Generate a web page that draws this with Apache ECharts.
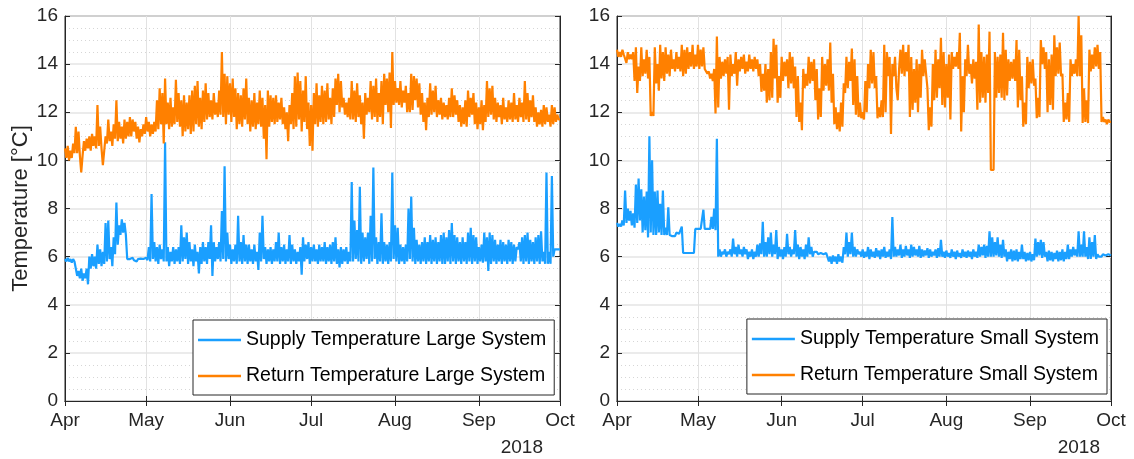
<!DOCTYPE html>
<html>
<head>
<meta charset="utf-8">
<script src="https://cdn.jsdelivr.net/npm/echarts@6/dist/echarts.min.js"></script>
<style>html,body{margin:0;padding:0;background:#fff}#c{width:1134px;height:459px}</style>
</head>
<body>
<div id="c"></div>
<script>
// Half-day samples starting 2018-04-01 00:00
const monthLabels = ['Jan','Feb','Mar','Apr','May','Jun','Jul','Aug','Sep','Oct','Nov','Dec'];
const yTicks = [0, 2, 4, 6, 8, 10, 12, 14, 16];
const yearLabel = '2018';
const seriesNames = ['Supply Temperature Large System','Return Temperature Large System','Supply Temperature Small System','Return Temperature Small System'];

const returnLarge = [
10.5,10.1, 10.6,10.0, 10.4,10.1, 10.7,10.3, 11.4,10.3, 11.2,10.2, 9.5,10.2, 10.8,10.4, 10.9,10.5, 11.0,10.4,
11.1,10.6, 11.0,10.5, 12.3,10.6, 11.4,10.5, 9.8,10.4, 11.0,10.7, 11.7,10.8, 11.2,10.6, 11.5,10.9, 12.5,10.8,
11.6,10.9, 11.4,10.7, 11.7,10.9, 11.6,11.0, 11.8,11.0, 11.7,11.2, 11.6,10.9, 11.4,10.75, 11.3,11.0, 11.5,11.1,
11.8,11.2, 11.6,11.0, 11.5,11.1, 11.6,11.2, 12.5,11.3, 13.0,11.5, 12.8,10.7, 13.4,11.5, 12.4,11.3, 12.6,11.4,
12.2,11.5, 13.35,11.6, 12.8,11.4, 12.5,11.0, 12.7,11.2, 12.4,11.3, 12.7,11.1, 12.9,11.2, 13.1,11.5, 13.3,11.4,
12.6,11.3, 12.9,11.6, 13.2,11.7, 12.8,11.8, 12.5,11.7, 12.8,11.9, 12.4,11.8, 12.9,11.9, 14.5,11.8, 13.6,11.5,
13.5,11.9, 13.2,11.6, 13.4,11.8, 13.0,11.3, 12.8,11.5, 12.7,11.4, 13.0,11.7, 13.4,11.5, 12.6,11.2, 12.5,11.4,
12.8,11.3, 12.4,11.5, 12.9,11.4, 12.6,10.9, 12.3,10.05, 12.9,11.4, 12.7,11.6, 12.6,11.5, 12.7,11.6, 12.4,11.7,
12.6,11.5, 12.2,11.3, 12.0,10.8, 12.3,11.5, 12.8,11.3, 13.5,11.4, 13.65,11.7, 13.3,11.2, 12.9,11.6, 13.5,11.3,
12.4,10.6, 12.3,10.4, 12.8,11.5, 13.2,11.4, 12.7,11.6, 13.1,11.5, 12.9,11.6, 13.2,11.7, 12.6,11.5, 13.0,11.8,
13.4,12.3, 13.6,12.0, 13.3,12.2, 12.6,11.9, 12.4,11.8, 12.6,11.7, 13.3,11.7, 12.9,11.6, 13.2,11.8, 12.7,11.5,
12.4,10.9, 12.8,11.9, 12.6,12.0, 13.3,11.7, 13.1,11.8, 13.4,11.6, 12.8,11.8, 13.3,11.5, 13.6,12.3, 13.4,12.0,
13.65,11.35, 14.5,12.3, 13.3,12.4, 13.0,12.3, 13.3,12.2, 12.9,12.4, 13.1,12.0, 12.8,12.0, 13.6,12.1, 13.5,12.5,
13.4,12.2, 13.2,11.9, 12.8,11.6, 12.4,11.25, 12.6,11.8, 13.2,11.9, 12.9,12.0, 13.1,11.8, 12.5,11.9, 12.6,11.7,
12.4,11.8, 12.3,11.7, 12.6,11.8, 13.0,11.8, 12.7,11.9, 12.5,11.6, 12.3,11.4, 12.2,11.5, 12.5,11.4, 12.9,11.8,
12.6,11.9, 12.8,11.5, 12.4,11.3, 12.2,11.5, 12.5,11.25, 12.3,11.6, 13.3,11.8, 13.0,11.9, 13.1,11.7, 12.6,11.6,
12.4,11.8, 12.3,11.5, 12.6,11.7, 12.2,11.6, 12.5,11.7, 12.4,11.6, 12.8,11.7, 12.3,11.6, 12.6,11.8, 12.4,11.6,
13.3,11.7, 12.8,11.6, 12.5,11.8, 12.7,11.6, 12.2,11.4, 12.0,11.5, 12.1,11.4, 12.3,11.5, 12.2,11.6, 11.9,11.4,
12.3,11.5, 12.2,11.6, 11.9,11.7, 11.7
];

const supplyLarge = [
5.9,5.8, 5.95,5.8, 5.9,5.75, 5.9,5.8, 5.5,5.2, 5.4,5.1, 5.5,5.0, 5.3,5.1, 5.5,4.85, 6.0,5.5,
6.1,5.6, 6.0,5.5, 6.5,5.7, 6.3,5.6, 6.2,5.7, 7.4,5.8, 7.5,5.9, 6.4,5.6, 6.8,6.1, 8.25,6.5,
7.3,6.9, 7.55,7.0, 7.4,6.9, 5.9,5.9, 5.9,5.85, 5.95,5.85, 5.9,5.8, 5.9,5.85, 5.92,5.86, 5.9,5.85,
5.95,5.85, 6.4,5.8, 8.6,5.9, 6.6,5.8, 6.4,5.7, 6.5,5.9, 6.3,5.8, 10.75,5.8, 6.4,5.6, 6.2,5.8,
6.4,5.7, 6.3,5.8, 6.4,5.7, 7.3,5.8, 6.8,5.9, 7.0,5.7, 6.6,5.8, 6.3,5.6, 6.5,5.8, 6.2,5.3,
6.4,5.7, 6.6,5.8, 6.4,5.7, 6.6,5.9, 7.3,5.2, 6.6,5.8, 6.4,5.9, 6.6,5.8, 7.9,5.9, 9.75,5.8,
7.0,5.9, 6.5,5.7, 6.3,5.8, 6.5,5.7, 7.7,5.8, 6.6,5.7, 6.9,5.8, 6.5,5.7, 6.5,5.8, 6.3,5.7,
6.5,5.8, 6.2,5.45, 7.0,5.8, 7.7,5.9, 6.4,5.7, 6.3,5.8, 6.4,5.7, 6.3,5.8, 6.6,5.8, 7.0,5.7,
6.4,5.8, 6.5,5.7, 6.3,5.8, 6.9,5.7, 6.5,5.8, 6.3,5.7, 6.2,5.8, 6.4,5.25, 6.8,5.8, 6.5,5.9,
6.6,5.7, 6.4,5.8, 6.5,5.8, 6.3,5.7, 6.5,5.8, 6.4,5.8, 6.6,5.7, 6.4,5.8, 6.5,5.7, 6.6,5.8,
6.8,5.7, 6.3,5.55, 6.4,5.7, 6.3,5.8, 6.4,5.7, 6.2,5.8, 9.1,5.8, 7.5,5.9, 7.1,5.8, 8.9,5.7,
7.0,5.8, 6.8,5.9, 7.0,5.7, 7.7,5.8, 9.7,5.9, 6.8,5.7, 6.6,5.8, 7.8,5.7, 6.6,5.8, 6.5,5.7,
6.6,5.8, 9.5,5.9, 7.3,5.8, 7.2,5.7, 6.5,5.8, 6.4,5.7, 6.5,5.8, 8.0,5.9, 8.5,5.8, 7.2,5.7,
6.7,5.8, 6.5,5.7, 6.6,5.8, 6.8,5.7, 6.6,5.8, 6.9,5.7, 6.7,5.8, 6.8,5.7, 6.6,5.8, 6.9,5.7,
7.0,5.7, 6.8,5.8, 7.1,5.7, 7.4,5.8, 6.9,5.7, 6.8,5.8, 6.6,5.7, 6.8,5.8, 6.6,5.7, 7.0,5.8,
7.2,5.7, 6.9,5.8, 6.8,5.7, 6.4,5.8, 6.5,5.75, 7.0,5.8, 6.8,5.4, 7.0,5.7, 6.9,5.8, 6.7,5.7,
6.5,5.8, 6.7,5.7, 6.6,5.8, 6.5,5.7, 6.7,5.8, 6.6,5.7, 6.5,5.8, 6.4,6.3, 6.6,5.8, 6.8,5.7,
6.9,5.8, 7.0,5.7, 6.7,5.8, 6.6,5.7, 6.8,5.8, 6.9,5.7, 7.05,5.8, 6.2,5.7, 9.5,5.7, 6.2,5.7,
9.35,6.0, 6.3,6.3, 6.3,6.3, 6.3
];

const returnSmall = [
14.6,14.3, 14.5,14.3, 14.6,14.4, 14.4,14.05, 14.5,14.2, 14.4,14.2, 14.5,13.3, 14.7,12.8, 13.9,13.3, 14.7,13.5,
14.2,13.6, 14.6,13.4, 14.3,11.85, 12.0,11.85, 14.7,13.2, 14.0,12.9, 14.8,13.4, 14.5,13.3, 14.7,13.6, 14.4,13.5,
14.6,13.8, 14.2,13.7, 14.5,13.8, 14.3,13.7, 14.8,13.5, 14.6,13.6, 14.7,13.8, 14.5,13.9, 14.8,13.8, 14.4,13.9,
14.8,13.8, 14.6,13.9, 14.7,13.8, 13.8,13.6, 13.7,13.4, 13.6,13.3, 13.8,11.95, 15.15,12.2, 14.3,13.4, 14.1,13.5,
14.2,13.6, 14.3,12.1, 14.4,13.5, 14.0,13.6, 14.5,13.1, 14.2,13.7, 14.3,13.8, 14.4,13.6, 14.1,13.7, 14.4,13.8,
14.2,13.7, 14.3,13.8, 14.2,13.5, 14.0,12.85, 13.6,12.9, 14.0,12.4, 13.8,12.5, 14.5,12.6, 15.05,13.4, 14.8,12.4,
13.5,12.6, 14.3,13.3, 14.1,13.5, 14.2,13.0, 14.5,13.2, 14.3,13.0, 13.9,11.8, 13.5,11.6, 12.4,11.25, 13.8,13.0,
13.6,13.1, 14.3,13.2, 14.1,13.3, 14.2,12.5, 13.8,11.7, 13.0,11.8, 14.3,12.9, 14.0,13.1, 14.2,12.9, 14.9,12.4,
13.6,11.5, 12.2,11.3, 12.0,11.2, 12.4,11.4, 13.2,12.8, 14.3,13.0, 14.1,13.3, 14.65,12.3, 14.2,11.9, 13.5,11.8,
12.4,11.75, 12.0,11.7, 13.3,12.0, 14.0,13.0, 14.6,13.2, 14.5,13.0, 13.5,11.75, 12.2,11.8, 12.5,11.8, 14.8,12.0,
14.5,13.5, 14.3,11.1, 14.0,13.5, 14.3,13.0, 12.5,13.8, 14.6,13.6, 14.8,13.5, 14.5,13.7, 14.8,11.8, 14.3,12.1,
13.8,12.4, 14.2,12.0, 14.0,12.6, 14.6,13.5, 14.2,13.6, 13.0,11.25, 12.2,11.4, 14.0,12.5, 14.6,12.6, 14.2,13.0,
15.1,12.3, 14.5,12.2, 14.0,12.6, 14.4,11.7, 14.5,13.8, 14.3,13.9, 14.5,13.8, 15.3,11.2, 13.5,12.0, 14.2,13.5,
14.8,13.6, 14.0,13.2, 14.2,13.4, 14.1,12.1, 15.65,12.4, 14.5,12.6, 14.3,12.4, 14.4,12.8, 15.35,9.6, 9.55,9.6,
14.5,12.6, 14.3,12.8, 14.4,12.6, 15.3,12.5, 14.6,12.7, 14.2,13.3, 14.1,13.4, 14.2,13.3, 15.0,12.2, 14.6,12.5,
13.5,11.4, 12.4,11.5, 14.3,13.0, 14.1,13.2, 14.2,13.1, 13.4,11.75, 12.6,11.8, 15.0,14.0, 14.7,13.8, 14.5,12.0,
14.2,12.3, 14.4,12.1, 15.2,13.5, 14.7,13.6, 14.9,13.5, 13.6,11.6, 12.4,11.7, 12.8,11.6, 14.2,13.5, 14.0,13.6,
14.2,13.5, 16.0,13.5, 15.2,11.55, 13.0,11.6, 12.5,11.55, 14.6,13.7, 14.4,13.8, 14.7,13.9, 14.8,13.8, 14.5,11.6,
11.8,11.6, 11.7,11.5, 11.7,11.6, 11.6
];

const supplySmall = [
7.4,7.25, 7.35,7.25, 7.5,7.3, 8.75,7.4, 8.0,7.5, 7.9,7.3, 7.8,7.2, 9.0,7.4, 9.25,7.5, 8.8,7.0,
8.5,7.1, 8.7,6.8, 11.0,7.0, 10.0,6.9, 8.7,6.9, 8.75,7.0, 8.2,6.9, 8.75,6.9, 7.2,6.9, 8.05,6.9,
6.9,6.85, 6.9,6.85, 7.0,7.0, 6.95,6.95, 7.25,6.15, 6.15,6.15, 6.15,6.15, 6.15,6.15, 6.15,6.15, 7.15,7.15,
7.15,7.15, 7.15,7.15, 7.95,7.15, 7.15,7.15, 7.2,7.15, 7.65,7.15, 8.0,7.1, 10.9,6.0, 6.3,6.0, 6.2,6.1,
6.3,6.0, 6.2,6.1, 6.3,6.0, 6.75,6.1, 6.4,6.0, 6.5,6.1, 6.3,6.0, 6.4,6.1, 6.3,5.9, 6.2,6.0,
6.3,5.9, 6.2,6.0, 6.5,6.0, 6.55,6.1, 7.45,6.0, 6.6,6.0, 6.8,6.1, 7.0,6.0, 6.5,6.1, 7.1,5.9,
6.4,6.0, 6.3,5.9, 6.4,6.0, 6.95,6.1, 6.4,6.0, 6.3,6.1, 7.1,6.0, 6.5,5.9, 6.4,6.0, 6.3,5.9,
6.5,6.0, 6.8,6.1, 6.4,6.0, 6.2,6.15, 6.2,6.1, 6.15,6.15, 6.2,6.1, 6.15,6.15, 6.1,5.8, 6.0,5.7,
6.05,5.8, 6.0,5.7, 6.1,5.8, 6.0,5.75, 6.4,6.1, 7.0,6.0, 6.6,6.1, 7.0,6.0, 6.4,6.0, 6.3,6.1,
6.2,6.0, 6.3,5.95, 6.2,6.0, 6.4,5.9, 6.3,6.0, 6.2,5.95, 6.35,6.0, 6.25,5.9, 6.3,6.0, 6.4,5.95,
6.2,6.0, 6.3,5.9, 7.65,6.0, 6.4,6.0, 6.3,6.05, 6.5,5.95, 6.3,6.0, 6.45,6.05, 6.3,5.95, 6.5,6.0,
6.4,6.05, 6.3,6.0, 6.45,5.95, 6.3,6.0, 6.25,6.05, 6.35,5.95, 6.3,6.0, 6.2,6.05, 6.3,5.95, 6.35,6.0,
6.7,6.0, 6.2,5.95, 6.25,6.0, 6.15,5.95, 6.3,6.0, 6.2,5.9, 6.25,6.0, 6.15,5.95, 6.3,6.0, 6.2,5.95,
6.25,6.0, 6.2,5.9, 6.3,6.0, 6.2,5.95, 6.5,6.0, 6.4,6.05, 6.5,5.95, 6.45,6.0, 7.05,6.0, 6.8,6.0,
6.6,6.05, 6.8,6.0, 6.5,5.95, 6.7,6.0, 6.3,5.8, 6.2,5.9, 6.3,5.8, 6.25,5.85, 6.3,5.8, 6.2,5.9,
6.5,5.9, 6.2,5.8, 6.15,5.85, 6.2,5.8, 6.1,5.85, 6.75,6.0, 6.6,6.05, 6.7,5.95, 6.6,6.0, 6.2,5.8,
6.25,5.85, 6.2,5.8, 6.15,5.9, 6.25,5.8, 6.2,5.85, 6.3,5.8, 6.2,5.9, 6.5,5.9, 6.3,6.0, 6.4,6.05,
6.3,6.0, 7.05,6.0, 6.5,6.0, 7.05,6.0, 6.4,5.9, 6.8,5.9, 6.6,6.0, 6.9,5.9, 6.1,6.0, 6.05,6.0,
6.1,6.05, 6.05,6.0, 6.1,6.05, 6.05
];

const START = new Date(2018, 3, 1).getTime();
const END = new Date(2018, 9, 1).getTime();
const HALF_DAY = 12 * 3600 * 1000;
function toSeries(vals) { return vals.map((v, i) => [START + i * HALF_DAY, v]); }

const FONT = 'Liberation Sans, Arial, sans-serif';
const AX = '#262626';
const BLUE = '#1a9fff';
const ORANGE = '#ff8000';

function xAxisCfg(gridIndex, position, showLabel) {
  return {
    type: 'time', gridIndex, position, min: START, max: END,
    splitNumber: 6, minInterval: 28 * 86400000, maxInterval: 31 * 86400000,
    axisLine: { show: true, lineStyle: { color: AX, width: 1 } },
    axisTick: { show: true, inside: true, length: 5, lineStyle: { color: AX } },
    axisLabel: {
      show: showLabel, color: AX, fontSize: 19, fontFamily: FONT, margin: 10,
      showMinLabel: true, showMaxLabel: true,
      formatter: (v) => monthLabels[new Date(v).getMonth()]
    },
    splitLine: { show: showLabel, lineStyle: { color: '#e2e2e2', width: 1 } }
  };
}
function yAxisCfg(gridIndex, position, showLabel, withName) {
  return {
    type: 'value', gridIndex, position, min: yTicks[0], max: yTicks[yTicks.length - 1], interval: 2,
    name: withName ? 'Temperature [°C]' : '',
    nameLocation: 'middle', nameGap: 33,
    nameTextStyle: { color: AX, fontSize: 22, fontFamily: FONT },
    axisLine: { show: true, lineStyle: { color: AX, width: 1 } },
    axisTick: { show: true, inside: true, length: 5, lineStyle: { color: AX } },
    axisLabel: { show: showLabel, color: AX, fontSize: 19, fontFamily: FONT, margin: 7 },
    splitLine: { show: showLabel, lineStyle: { color: '#e4e4e4', width: 1.5 } },
    minorTick: { show: showLabel, splitNumber: 4, length: 0, lineStyle: { color: 'rgba(0,0,0,0)' } },
    minorSplitLine: { show: showLabel, lineStyle: { color: '#d6d6d6', width: 1, type: [1, 3] } }
  };
}
function lineSeries(name, vals, xi, yi, color) {
  return {
    name, type: 'line', xAxisIndex: xi, yAxisIndex: yi, data: toSeries(vals),
    showSymbol: false, symbol: 'none', sampling: null, color,
    lineStyle: { color, width: 2.2 }, emphasis: { disabled: true }
  };
}
function legendCfg(names, pos) {
  return Object.assign({
    data: names, orient: 'vertical', icon: 'rect', itemWidth: 43, itemHeight: 2.5, itemGap: 16,
    padding: [10, 8, 9, 5], backgroundColor: '#fff', borderColor: AX, borderWidth: 1, borderRadius: 0,
    textStyle: { color: '#000', fontSize: 19.5, fontFamily: FONT }, selectedMode: false
  }, pos);
}

const chart = echarts.init(document.getElementById('c'), null, { renderer: 'canvas' });
chart.setOption({
  animation: false,
  backgroundColor: '#fff',
  grid: [
    { left: 65, right: 574, top: 16, bottom: 58, show: true, borderColor: AX, borderWidth: 1, backgroundColor: '#fff', containLabel: false },
    { left: 617, right: 23, top: 16, bottom: 58, show: true, borderColor: AX, borderWidth: 1, backgroundColor: '#fff', containLabel: false }
  ],
  xAxis: [ xAxisCfg(0, 'bottom', true), xAxisCfg(0, 'top', false), xAxisCfg(1, 'bottom', true), xAxisCfg(1, 'top', false) ],
  yAxis: [ yAxisCfg(0, 'left', true, true), yAxisCfg(0, 'right', false, false), yAxisCfg(1, 'left', true, false), yAxisCfg(1, 'right', false, false) ],
  legend: [
    legendCfg([seriesNames[0], seriesNames[1]], { left: 193, top: 320 }),
    legendCfg([seriesNames[2], seriesNames[3]], { right: 27, top: 319 })
  ],
  graphic: [
    { type: 'text', style: { text: yearLabel, x: 543, y: 448, align: 'right', verticalAlign: 'middle', fill: AX, font: '19px ' + FONT } },
    { type: 'text', style: { text: yearLabel, x: 1100, y: 448, align: 'right', verticalAlign: 'middle', fill: AX, font: '19px ' + FONT } }
  ],
  series: [
    lineSeries(seriesNames[0], supplyLarge, 0, 0, BLUE),
    lineSeries(seriesNames[1], returnLarge, 0, 0, ORANGE),
    lineSeries(seriesNames[2], supplySmall, 2, 2, BLUE),
    lineSeries(seriesNames[3], returnSmall, 2, 2, ORANGE)
  ]
});
</script>
</body>
</html>
